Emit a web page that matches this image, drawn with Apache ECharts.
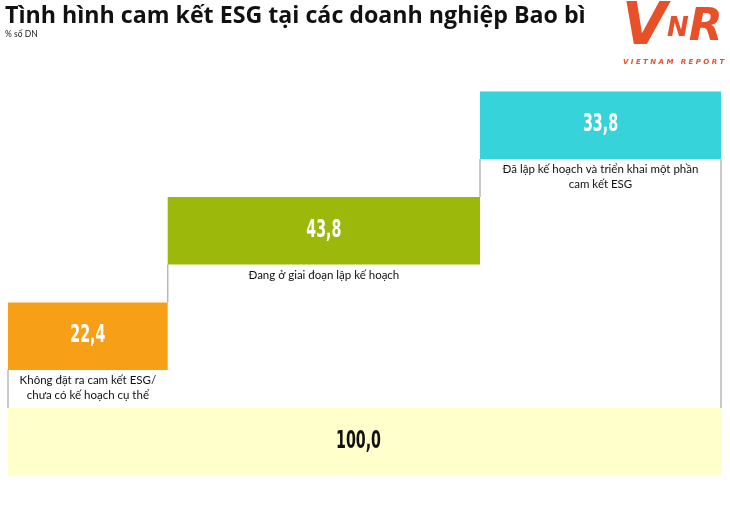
<!DOCTYPE html>
<html>
<head>
<meta charset="utf-8">
<style>html,body{margin:0;padding:0;background:#fff;}#c{width:730px;height:515px;}</style>
<script src="https://cdn.jsdelivr.net/npm/echarts@6/dist/echarts.min.js"></script>
</head>
<body>
<div id="c"></div>
<script>
const titleText = 'Tình hình cam kết ESG tại các doanh nghiệp Bao bì';
const subtitleText = '% số DN';
const categories = [
  'Không đặt ra cam kết ESG/\nchưa có kế hoạch cụ thể',
  'Đang ở giai đoạn lập kế hoạch',
  'Đã lập kế hoạch và triển khai một phần\ncam kết ESG'
];
const values = [22.4, 43.8, 33.8];
const totalValue = 100.0;
const stepColors = ['#f79f17', '#9cb80a', '#37d3da'];
const totalColor = '#ffffcc';

const fmt = v => v.toFixed(1).replace('.', ',');
const valueFont = '"DejaVu Sans Condensed","DejaVu Sans",sans-serif';
const VALUE_SCALE_X = 0.66;

// cumulative starts
const stepData = [];
let acc = 0;
values.forEach((v, i) => { stepData.push([acc, acc + v, v, i]); acc += v; });

const HEADER_H = 67.5, STEP = 105.5, TOTAL_H = 68, GAP = 38;

const chart = echarts.init(document.getElementById('c'));
chart.setOption({
  animation: false,
  title: [
    { text: titleText, left: 0, top: 0,
      textStyle: { fontFamily: '"Open Sans", Lato, sans-serif', fontWeight: 'bold', fontSize: 23.2, color: '#111' } },
    { text: subtitleText, left: 0, top: 25,
      textStyle: { fontFamily: 'Lato, sans-serif', fontWeight: 'normal', fontSize: 8.5, color: '#222' } }
  ],
  grid: { left: 8, right: 9, top: 92, bottom: 39 },
  xAxis: { type: 'value', min: 0, max: 100, show: false },
  yAxis: { type: 'value', min: 0, max: 100, show: false },
  graphic: [
    { type: 'text', left: 622, top: 0,
      style: { text: '{a|V}{b|N}{c|R}', fill: '#e8502a', fontStyle: 'italic',
               fontFamily: '"DejaVu Sans", sans-serif',
               rich: {
                 a: { fontSize: 58, fill: '#e8502a', fontStyle: 'italic', fontWeight: 'bold', fontFamily: '"DejaVu Sans", sans-serif' },
                 b: { fontSize: 26, fill: '#e8502a', fontStyle: 'italic', fontWeight: 'bold', fontFamily: '"DejaVu Sans", sans-serif' },
                 c: { fontSize: 44, fill: '#e8502a', fontStyle: 'italic', fontWeight: 'bold', fontFamily: '"DejaVu Sans", sans-serif' }
               } } },
    { type: 'text', left: 623, top: 59,
      style: { text: 'V I E T N A M   R E P O R T', fill: '#e8502a', fontSize: 7, fontStyle: 'italic', fontWeight: 'bold',
               fontFamily: '"DejaVu Sans", sans-serif' } }
  ],
  series: [
    {
      type: 'custom',
      name: 'total',
      data: [[0, totalValue]],
      renderItem: function (params, api) {
        const cs = params.coordSys;
        const bottom = cs.y + cs.height;
        const x0 = api.coord([0, 0])[0];
        const x1 = api.coord([api.value(1), 0])[0];
        return {
          type: 'group',
          children: [
            { type: 'rect', shape: { x: x0, y: bottom - TOTAL_H, width: x1 - x0, height: TOTAL_H },
              style: { fill: totalColor } },
            { type: 'text', x: (x0 + x1) / 2 - 6, y: bottom - TOTAL_H / 2, scaleX: VALUE_SCALE_X,
              style: { text: fmt(api.value(1)), fill: '#111', fontSize: 24, fontWeight: 'bold',
                       fontFamily: valueFont, align: 'center', verticalAlign: 'middle' } }
          ]
        };
      }
    },
    {
      type: 'custom',
      name: 'steps',
      data: stepData,
      renderItem: function (params, api) {
        const cs = params.coordSys;
        const bottom = cs.y + cs.height;
        const i = api.value(3);
        const x0 = api.coord([api.value(0), 0])[0];
        const x1 = api.coord([api.value(1), 0])[0];
        const hb = bottom - TOTAL_H - GAP - i * STEP;
        const ht = hb - HEADER_H;
        const children = [
          { type: 'line', shape: { x1: x0, y1: hb, x2: x0, y2: hb + GAP },
            style: { stroke: '#b8b8b8', lineWidth: 1.5 } },
          { type: 'rect', shape: { x: x0, y: ht, width: x1 - x0, height: HEADER_H },
            style: { fill: stepColors[i] } },
          { type: 'text', x: (x0 + x1) / 2, y: ht + HEADER_H / 2, scaleX: VALUE_SCALE_X,
            style: { text: fmt(api.value(2)), fill: '#fff', fontSize: 24, fontWeight: 'bold',
                     fontFamily: valueFont, align: 'center', verticalAlign: 'middle' } },
          { type: 'text', x: (x0 + x1) / 2, y: hb + 3,
            style: { text: categories[i], fill: '#111', fontSize: 11.5, lineHeight: 15,
                     fontFamily: 'Lato, "Open Sans", sans-serif', align: 'center', verticalAlign: 'top' } }
        ];
        if (i === values.length - 1) {
          children.push({ type: 'line', shape: { x1: x1, y1: hb, x2: x1, y2: bottom - TOTAL_H },
            style: { stroke: '#b8b8b8', lineWidth: 1.5 } });
        }
        return { type: 'group', children: children };
      }
    }
  ]
});
</script>
</body>
</html>
